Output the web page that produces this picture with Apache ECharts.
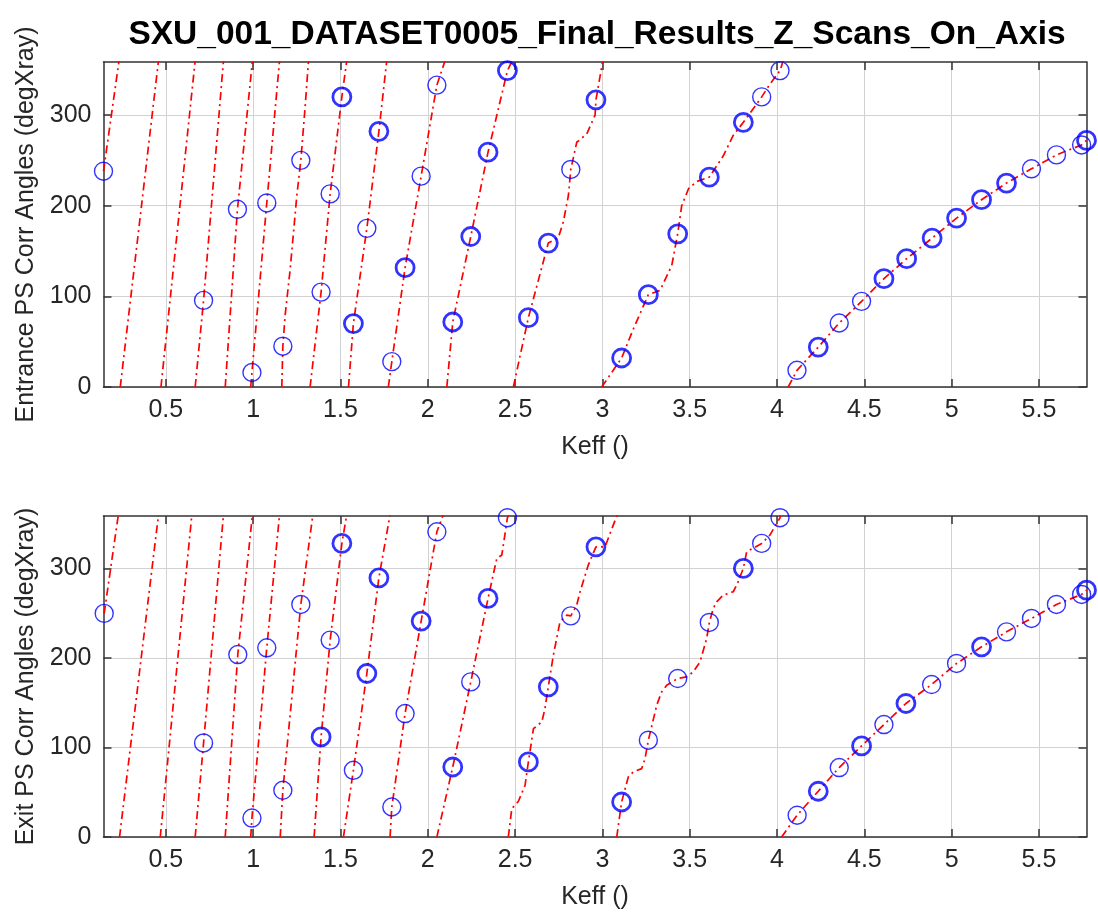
<!DOCTYPE html>
<html>
<head>
<meta charset="utf-8">
<script src="https://cdn.jsdelivr.net/npm/echarts@6/dist/echarts.min.js"></script>
<style>
html,body{margin:0;padding:0;background:#fff;}
#chart{width:1098px;height:920px;}
</style>
</head>
<body>
<div id="chart"></div>
<script>
// ---------- data ----------
const chartTitle = 'SXU_001_DATASET0005_Final_Results_Z_Scans_On_Axis';
const xAxisTitle = 'Keff ()';
const entranceAxisTitle = 'Entrance PS Corr Angles (degXray)';
const exitAxisTitle = 'Exit PS Corr Angles (degXray)';

const xTickValues = [0.5, 1, 1.5, 2, 2.5, 3, 3.5, 4, 4.5, 5, 5.5];
const yTickValues = [0, 100, 200, 300];
const keffMin = 0.143;
const keffMax = 5.772;
const degMax = 358.5;

// red dash-dot curve (wrapped 0..360), one sub-list per wrap
const entranceCurveSegments = [
  [[0.143,238],[0.232,360]],
  [[0.239,0],[0.458,360]],
  [[0.472,0],[0.668,360]],
  [[0.668,0],[0.716,95.5],[0.830,360]],
  [[0.840,0],[0.910,196],[0.996,360]],
  [[0.986,0],[0.993,16],[1.078,203],[1.151,360]],
  [[1.164,0],[1.170,45],[1.183,79],[1.212,130],[1.250,211],[1.273,250],[1.298,310],[1.317,360]],
  [[1.326,0],[1.389,104.7],[1.441,213],[1.508,320],[1.536,360]],
  [[1.546,0],[1.574,70],[1.651,175],[1.720,282],[1.765,360]],
  [[1.774,0],[1.794,28],[1.870,131.6],[1.962,232.6],[2.052,333],[2.099,360]],
  [[2.109,0],[2.143,71.7],[2.246,166],[2.345,259],[2.456,349],[2.483,360]],
  [[2.490,0],[2.576,76.5],[2.690,158.8],[2.748,165],[2.776,182],[2.805,211],[2.819,240],[2.853,270],[2.910,279],[2.958,300],[2.963,316.8],[3.002,360]],
  [[2.996,0],[3.110,32],[3.177,64],[3.263,101.8],[3.330,106.6],[3.397,134],[3.431,169],[3.454,200],[3.493,218.7],[3.540,226.7],[3.612,231.5],[3.692,255],[3.749,277.5],[3.807,292],[3.912,320],[3.959,334],[4.017,349],[4.035,360]],
  [[4.064,0],[4.114,18.4],[4.236,44],[4.356,70.6],[4.484,94.5],[4.612,119.5],[4.742,141.5],[4.888,164.3],[5.028,186.3],[5.171,206.6],[5.314,225],[5.457,240.7],[5.600,256],[5.744,267],[5.772,272]]
];

// blue circles: single measurements and repeated (overdrawn, bold) measurements
const entranceSingleCircles = [
  [0.143,238],[0.716,95.5],[0.910,196],[0.993,16],[1.078,203],[1.170,45],[1.273,250],
  [1.389,104.7],[1.441,213],[1.651,175],[1.794,28],[1.962,232.6],[2.052,333],[2.819,240],
  [3.912,320],[4.017,349],[4.114,18.4],[4.356,70.6],[4.484,94.5],[5.457,240.7],[5.600,256],[5.744,267]
];
const entranceRepeatCircles = [
  [1.508,320],[1.574,70],[1.720,282],[1.870,131.6],[2.143,71.7],[2.246,166],[2.345,259],
  [2.456,349],[2.576,76.5],[2.690,158.8],[2.963,316.8],[3.110,32],[3.263,101.8],[3.431,169],
  [3.612,231.5],[3.807,292],[4.236,44],[4.612,119.5],[4.742,141.5],[4.888,164.3],[5.028,186.3],
  [5.171,206.6],[5.314,225],[5.772,272]
];

const exitCurveSegments = [
  [[0.147,249.7],[0.228,360]],
  [[0.235,0],[0.458,360]],
  [[0.468,0],[0.649,360]],
  [[0.668,0],[0.716,105],[0.830,360]],
  [[0.840,0],[0.912,203.8],[0.996,360]],
  [[0.986,0],[0.993,21.2],[1.078,211.3],[1.151,360]],
  [[1.155,0],[1.170,52.2],[1.273,259.7],[1.342,360]],
  [[1.349,0],[1.389,111.8],[1.441,219.9],[1.508,327.9],[1.536,360]],
  [[1.517,0],[1.574,74.5],[1.651,182.6],[1.720,289.5],[1.784,360]],
  [[1.784,0],[1.794,33.5],[1.870,137.9],[1.962,241.1],[2.052,340.9],[2.089,360]],
  [[2.052,0],[2.143,78.2],[2.246,173.2],[2.345,266.4],[2.395,311],[2.424,315],[2.456,356.6],[2.465,360]],
  [[2.461,0],[2.481,31.7],[2.519,39.9],[2.557,57.8],[2.576,83.8],[2.605,121],[2.653,128.6],[2.671,143.5],[2.690,167.7],[2.719,203],[2.757,240.3],[2.796,247.8],[2.819,247],[2.853,259],[2.872,273.9],[2.919,303.7],[2.963,324.1],[3.015,324.1],[3.044,339],[3.085,360]],
  [[3.082,0],[3.110,39.1],[3.148,67],[3.177,72.7],[3.225,76.4],[3.244,87.6],[3.263,108.1],[3.311,147.2],[3.339,162],[3.368,169.5],[3.431,177],[3.483,178.8],[3.520,184.4],[3.559,195.6],[3.597,221.7],[3.612,239.6],[3.635,255.3],[3.654,262.7],[3.692,270.1],[3.749,273.9],[3.769,281.3],[3.807,300],[3.826,318.5],[3.912,327.9],[3.959,337.2],[4.017,356.6],[4.020,360]],
  [[4.026,0],[4.115,24.3],[4.236,51.1],[4.356,77.6],[4.484,101.7],[4.612,125.6],[4.738,149.1],[4.885,170.3],[5.028,193.8],[5.171,212.4],[5.314,229.1],[5.457,244.1],[5.600,259.7],[5.744,270.9],[5.772,275.7]]
];

const exitSingleCircles = [
  [0.147,249.7],[0.716,105],[0.912,203.8],[0.993,21.2],[1.078,211.3],[1.170,52.2],[1.273,259.7],
  [1.441,219.9],[1.574,74.5],[1.794,33.5],[1.870,137.9],[2.052,340.9],[2.246,173.2],[2.456,356.6],
  [2.819,247],[3.263,108.1],[3.431,177],[3.612,239.6],[3.912,327.9],[4.017,356.6],[4.115,24.3],
  [4.356,77.6],[4.612,125.6],[4.885,170.3],[5.028,193.8],[5.314,229.1],[5.457,244.1],[5.600,259.7],[5.744,270.9]
];
const exitRepeatCircles = [
  [1.389,111.8],[1.508,327.9],[1.651,182.6],[1.720,289.5],[1.962,241.1],[2.143,78.2],[2.345,266.4],
  [2.576,83.8],[2.690,167.7],[2.963,324.1],[3.110,39.1],[3.807,300],[4.236,51.1],[4.484,101.7],
  [4.738,149.1],[5.171,212.4],[5.772,275.7]
];

// ---------- styling / layout ----------
const FONT = "'Liberation Sans', Arial, Helvetica, sans-serif";
const AXIS_COLOR = '#333333';
const TEXT_COLOR = '#262626';
const GRID_COLOR = '#d2d2d2';
const RED = '#ff0000';
const BLUE = '#0000ff';
const LABEL_SIZE = 25;

const grids = [
  {left: 103.5, top: 62, width: 983, height: 325, outerBoundsMode: 'none'},
  {left: 103.5, top: 516, width: 983, height: 321, outerBoundsMode: 'none'}
];

function primaryX(gi) {
  return {
    type: 'value', gridIndex: gi, position: 'bottom',
    min: keffMin, max: keffMax,
    name: xAxisTitle, nameLocation: 'middle', nameGap: 48,
    nameTextStyle: {fontFamily: FONT, fontSize: LABEL_SIZE, color: TEXT_COLOR},
    axisLine: {show: true, onZero: false, lineStyle: {color: AXIS_COLOR, width: 1.5}},
    axisTick: {show: true, inside: true, length: 8, customValues: xTickValues, lineStyle: {color: AXIS_COLOR, width: 1.5}},
    axisLabel: {show: true, customValues: xTickValues, margin: 11, fontFamily: FONT, fontSize: LABEL_SIZE, color: TEXT_COLOR,
      formatter: v => String(v)},
    splitLine: {show: true, lineStyle: {color: GRID_COLOR, width: 1}}
  };
}
function secondaryX(gi) {
  return {
    type: 'value', gridIndex: gi, position: 'top',
    min: keffMin, max: keffMax,
    axisLine: {show: true, onZero: false, lineStyle: {color: AXIS_COLOR, width: 1.5}},
    axisTick: {show: true, inside: true, length: 8, customValues: xTickValues, lineStyle: {color: AXIS_COLOR, width: 1.5}},
    axisLabel: {show: false},
    splitLine: {show: false}
  };
}
function primaryY(gi, title) {
  return {
    type: 'value', gridIndex: gi, position: 'left',
    min: 0, max: degMax,
    name: title, nameLocation: 'middle', nameGap: 65, nameRotate: 90,
    nameTextStyle: {fontFamily: FONT, fontSize: LABEL_SIZE, color: TEXT_COLOR},
    axisLine: {show: true, onZero: false, lineStyle: {color: AXIS_COLOR, width: 1.5}},
    axisTick: {show: true, inside: true, length: 8, customValues: yTickValues, lineStyle: {color: AXIS_COLOR, width: 1.5}},
    axisLabel: {show: true, customValues: yTickValues, margin: 12, fontFamily: FONT, fontSize: LABEL_SIZE, color: TEXT_COLOR,
      formatter: v => String(v)},
    splitLine: {show: true, lineStyle: {color: GRID_COLOR, width: 1}}
  };
}
function secondaryY(gi) {
  return {
    type: 'value', gridIndex: gi, position: 'right',
    min: 0, max: degMax,
    axisLine: {show: true, onZero: false, lineStyle: {color: AXIS_COLOR, width: 1.5}},
    axisTick: {show: true, inside: true, length: 8, customValues: yTickValues, lineStyle: {color: AXIS_COLOR, width: 1.5}},
    axisLabel: {show: false},
    splitLine: {show: false}
  };
}

function curveSeries(segments, axisIdx) {
  return segments.map(seg => ({
    type: 'line', xAxisIndex: axisIdx, yAxisIndex: axisIdx,
    data: seg, showSymbol: false, symbol: 'none', silent: true, clip: true,
    z: 2, animation: false,
    lineStyle: {color: RED, width: 1.7, type: [8, 4, 2, 4]}
  }));
}
function circleSeries(points, axisIdx, bw) {
  return {
    type: 'scatter', xAxisIndex: axisIdx, yAxisIndex: axisIdx,
    data: points, symbol: 'circle', symbolSize: 18, silent: true, z: 3, clip: false,
    itemStyle: {color: 'rgba(0,0,0,0)', borderColor: BLUE, borderWidth: bw}
  };
}

const option = {
  backgroundColor: '#ffffff',
  animation: false,
  title: {
    text: chartTitle,
    left: 592, top: 13, textAlign: 'center',
    textStyle: {fontFamily: FONT, fontSize: 33.5, fontWeight: 'bold', color: '#000000'}
  },
  grid: grids,
  xAxis: [primaryX(0), primaryX(1), secondaryX(0), secondaryX(1)],
  yAxis: [primaryY(0, entranceAxisTitle), primaryY(1, exitAxisTitle), secondaryY(0), secondaryY(1)],
  series: [
    ...curveSeries(entranceCurveSegments, 0),
    circleSeries(entranceSingleCircles, 0, 1.4),
    circleSeries(entranceRepeatCircles, 0, 2.8),
    ...curveSeries(exitCurveSegments, 1),
    circleSeries(exitSingleCircles, 1, 1.4),
    circleSeries(exitRepeatCircles, 1, 2.8)
  ]
};

const chart = echarts.init(document.getElementById('chart'), null, {renderer: 'canvas'});
chart.setOption(option);
</script>
</body>
</html>
